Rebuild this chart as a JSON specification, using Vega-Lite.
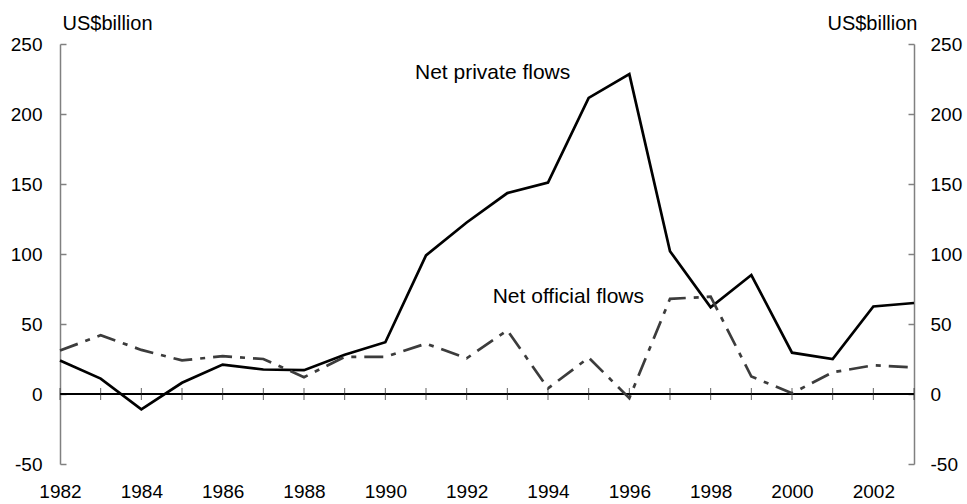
{
  "$schema": "https://vega.github.io/schema/vega-lite/v6.json",
  "width": 854,
  "height": 420,
  "autosize": {"type": "none"},
  "padding": {"left": 60, "top": 44, "right": 53, "bottom": 40},
  "background": "white",
  "config": {
    "view": {"stroke": null},
    "font": "Liberation Sans",
    "text": {"font": "Liberation Sans"},
    "axis": {"labelFont": "Liberation Sans", "titleFont": "Liberation Sans", "labelColor": "black", "titleColor": "black", "grid": false}
  },
  "datasets": {
    "flows": [
      {"year": 1982, "private": 24, "official": 31},
      {"year": 1983, "private": 11, "official": 42},
      {"year": 1984, "private": -11, "official": 31.5},
      {"year": 1985, "private": 8, "official": 24},
      {"year": 1986, "private": 21, "official": 27},
      {"year": 1987, "private": 17.5, "official": 25},
      {"year": 1988, "private": 17, "official": 12},
      {"year": 1989, "private": 28, "official": 26.5},
      {"year": 1990, "private": 37, "official": 26.5},
      {"year": 1991, "private": 99, "official": 36},
      {"year": 1992, "private": 122.5, "official": 25.5},
      {"year": 1993, "private": 143.5, "official": 45.5},
      {"year": 1994, "private": 151, "official": 4},
      {"year": 1995, "private": 211.5, "official": 26},
      {"year": 1996, "private": 228.5, "official": -3},
      {"year": 1997, "private": 102, "official": 68},
      {"year": 1998, "private": 62, "official": 69.5},
      {"year": 1999, "private": 85, "official": 12.5},
      {"year": 2000, "private": 29.5, "official": 0.5},
      {"year": 2001, "private": 25, "official": 15.5},
      {"year": 2002, "private": 62.5, "official": 20.5},
      {"year": 2003, "private": 65, "official": 19}
    ],
    "labels": [
      {"year": 1990.73, "value": 229, "label": "Net private flows"},
      {"year": 1992.64, "value": 69.5, "label": "Net official flows"}
    ]
  },
  "layer": [
    {
      "data": {"name": "flows"},
      "mark": {"type": "rule", "color": "black", "strokeWidth": 1},
      "encoding": {
        "y": {"datum": 0, "type": "quantitative", "scale": {"domain": [-50, 250], "nice": false}, "axis": null}
      }
    },
    {
      "data": {"name": "flows"},
      "mark": {"type": "tick", "orient": "vertical", "color": "#222222", "size": 12, "thickness": 1},
      "encoding": {
        "x": {"field": "year", "type": "quantitative", "scale": {"domain": [1982, 2003], "nice": false, "zero": false}, "axis": null},
        "y": {"datum": 0, "type": "quantitative", "scale": {"domain": [-50, 250], "nice": false}, "axis": null}
      }
    },
    {
      "data": {"name": "flows"},
      "mark": {"type": "line", "color": "black", "strokeWidth": 2.7, "strokeJoin": "miter"},
      "encoding": {
        "x": {"field": "year", "type": "quantitative", "scale": {"domain": [1982, 2003], "nice": false, "zero": false},
          "axis": {"orient": "bottom", "values": [1982, 1984, 1986, 1988, 1990, 1992, 1994, 1996, 1998, 2000, 2002], "format": "d", "title": null, "domain": false, "ticks": false, "labelFontSize": 19, "labelPadding": 18, "labelFlush": false}},
        "y": {"field": "private", "type": "quantitative", "scale": {"domain": [-50, 250], "nice": false},
          "axis": {"orient": "left", "values": [-50, 0, 50, 100, 150, 200, 250], "labelExpr": "datum.value < 0 ? '-' + abs(datum.value) : datum.label", "title": "US$billion", "titleAngle": 0, "titleAlign": "left", "titleBaseline": "middle", "titleX": 2, "titleY": -21, "titleFontSize": 20, "titleFontWeight": "normal", "labelFontSize": 19, "domainColor": "#808080", "domainWidth": 1.5, "tickColor": "#808080", "tickSize": -6, "tickWidth": 1.5, "labelPadding": 24}}
      }
    },
    {
      "data": {"name": "flows"},
      "mark": {"type": "line", "color": "#3c3c3c", "strokeWidth": 2.7, "strokeDash": [19, 8, 5, 8], "strokeJoin": "miter"},
      "encoding": {
        "x": {"field": "year", "type": "quantitative", "scale": {"domain": [1982, 2003], "nice": false, "zero": false}, "axis": null},
        "y": {"field": "official", "type": "quantitative", "scale": {"domain": [-50, 250], "nice": false},
          "axis": {"orient": "right", "values": [-50, 0, 50, 100, 150, 200, 250], "labelExpr": "datum.value < 0 ? '-' + abs(datum.value) : datum.label", "title": "US$billion", "titleAngle": 0, "titleAlign": "right", "titleBaseline": "middle", "titleX": 3, "titleY": -21, "titleFontSize": 20, "titleFontWeight": "normal", "labelFontSize": 19, "domainColor": "#808080", "domainWidth": 1.5, "tickColor": "#808080", "tickSize": -6, "tickWidth": 1.5, "labelPadding": 22}}
      }
    },
    {
      "data": {"name": "labels"},
      "mark": {"type": "text", "align": "left", "baseline": "middle", "fontSize": 21, "color": "black"},
      "encoding": {
        "x": {"field": "year", "type": "quantitative", "scale": {"domain": [1982, 2003], "nice": false, "zero": false}, "axis": null},
        "y": {"field": "value", "type": "quantitative", "scale": {"domain": [-50, 250], "nice": false}, "axis": null},
        "text": {"field": "label"}
      }
    }
  ],
  "resolve": {"scale": {"y": "independent", "x": "independent"}, "axis": {"y": "independent", "x": "independent"}}
}
